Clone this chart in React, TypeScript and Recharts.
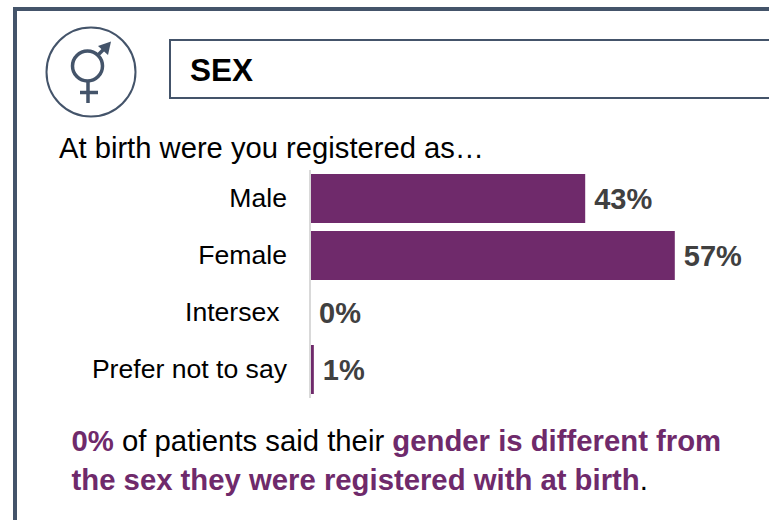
import React from "react";
import { BarChart, Bar, XAxis, YAxis, LabelList, Cell } from "recharts";

const categories = ["Male", "Female", "Intersex\u00a0", "Prefer not to say"];
const values = [43, 57, 0, 0.6];
const valueLabels = ["43%", "57%", "0%", "1%"];
const rows = categories.map((category, i) => ({ category, value: values[i], label: valueLabels[i] }));

const FONT = '"Liberation Sans", Arial, sans-serif';
const SLATE = "#44546A";
const PURPLE = "#6F2A6B";

const abs = (left: number, top: number, extra: React.CSSProperties = {}): React.CSSProperties => ({
  position: "absolute", left, top, fontFamily: FONT, whiteSpace: "nowrap", ...extra,
});

export default function App() {
  return (
    <div style={{ position: "absolute", left: 0, top: 0, width: 769, height: 520, overflow: "hidden", background: "#fff" }}>
      <div style={{ position: "absolute", left: 13, top: 7, width: 800, height: 600, borderLeft: `4px solid ${SLATE}`, borderTop: `4px solid ${SLATE}`, boxSizing: "border-box" }} />
      <svg style={{ position: "absolute", left: 0, top: 0 }} width={769} height={130}>
        <circle cx={91} cy={72} r={44.5} fill="none" stroke={SLATE} strokeWidth={2} />
        <circle cx={87.5} cy={66} r={15} fill="none" stroke={SLATE} strokeWidth={3.5} />
        <path d="M88 82V103M80 92.5H98" stroke={SLATE} strokeWidth={3.5} fill="none" />
        <path d="M98 55L108 45" stroke={SLATE} strokeWidth={3.5} fill="none" />
        <path d="M98 46L111 41.5L108 55Z" fill={SLATE} />
      </svg>
      <div style={{ position: "absolute", left: 169, top: 39, width: 700, height: 60, border: `2px solid ${SLATE}`, boxSizing: "border-box" }} />
      <div style={abs(190, 51, { fontSize: 31.5, fontWeight: 700, lineHeight: "38px", color: "#000" })}>SEX</div>
      <div style={abs(59, 132, { fontSize: 29.2, lineHeight: "32px", color: "#000" })}>At birth were you registered as…</div>
      <BarChart
        style={{ position: "absolute", left: 0, top: 0 }}
        width={769}
        height={520}
        data={rows}
        layout="vertical"
        margin={{ top: 170, right: 75, bottom: 122, left: 0 }}
        barCategoryGap={4}
      >
        <XAxis type="number" domain={[0, 60]} hide />
        <YAxis
          type="category"
          dataKey="category"
          width={310}
          tickLine={false}
          tickMargin={17}
          axisLine={{ stroke: "#D9D9D9", strokeWidth: 2 }}
          tick={{ fill: "#000", fontFamily: FONT, fontSize: 26.6, dy: -1 }}
          interval={0}
        />
        <Bar dataKey="value" isAnimationActive={false} fill={PURPLE} minPointSize={(v: number) => (v === 0 ? 0.01 : 0)}>
          {rows.map((r) => <Cell key={r.category} fill={PURPLE} />)}
          <LabelList dataKey="label" position="right" offset={9} fill="#404040" fontFamily={FONT} fontSize={29} fontWeight={700} />
        </Bar>
      </BarChart>
      <div style={{ ...abs(71.5, 421), fontSize: 29.3, lineHeight: "39px", color: "#000" }}>
        <b style={{ color: PURPLE }}>0%</b> of patients said their <b style={{ color: PURPLE }}>gender is different from</b>
        <br />
        <b style={{ color: PURPLE }}>the sex they were registered with at birth</b>.
      </div>
    </div>
  );
}
